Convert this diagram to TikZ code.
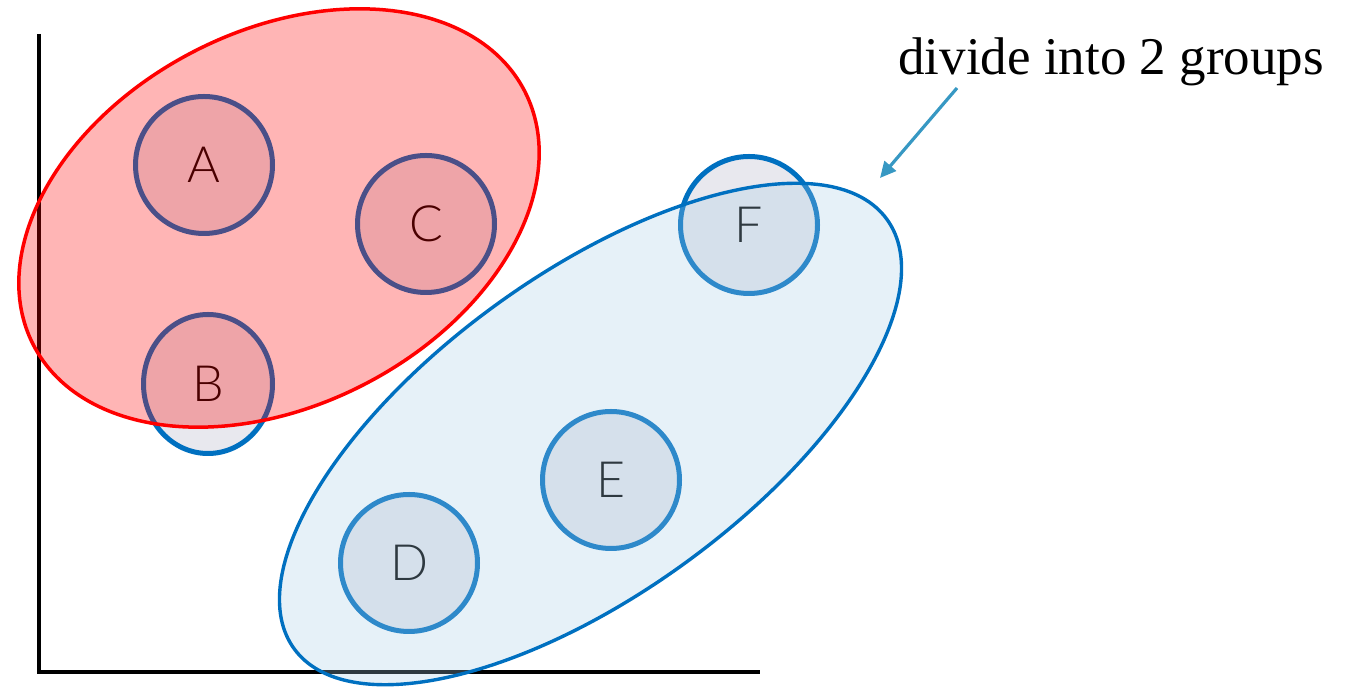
\documentclass[tikz,border=0pt]{standalone}
\usepackage{fontspec}
\setmainfont{Liberation Serif}
\newfontfamily\lettfont{Lato Light}
\usetikzlibrary{shapes.geometric,arrows.meta}
\definecolor{circfill}{RGB}{232,232,238}
\definecolor{circline}{RGB}{0,112,192}
\definecolor{bluegrp}{RGB}{166,205,230}
\definecolor{arrowcol}{RGB}{55,152,195}
\begin{document}
\begin{tikzpicture}[x=0.5pt,y=-0.5pt,
  pointnode/.style={circle,draw=circline,line width=2.5pt,fill=circfill,
    minimum size=68.5pt,inner sep=0pt,text=black,
    font=\lettfont\fontsize{25}{30}\selectfont},
  redgroup/.style={ellipse,draw=red,line width=1.75pt,fill=red,fill opacity=0.29,
    draw opacity=1,inner sep=0pt},
  bluegroup/.style={ellipse,draw=circline,line width=1.7pt,fill=bluegrp,fill opacity=0.28,
    draw opacity=1,inner sep=0pt},
  axisline/.style={line width=2pt,black,line join=miter},
  pointer/.style={-{Triangle[length=8pt,width=7.5pt]},line width=1.6pt,arrowcol}]
\useasboundingbox (0,0) rectangle (1345,688);
% axes
\coordinate (ytop) at (39,34);
\coordinate (origin) at (39,672);
\coordinate (xend) at (760,672);
\draw[axisline] (ytop) -- (origin) -- (xend);
% points
\node[pointnode] (A) at (204,165) {A};
\node[pointnode,ellipse,minimum width=64.5pt,minimum height=69.5pt] (B) at (208,384) {B};
\node[pointnode] (C) at (426,224) {C};
\node[pointnode] (D) at (409,563) {D};
\node[pointnode] (E) at (611,480) {E};
\node[pointnode] (F) at (749,225) {F};
% groups
\node[redgroup,minimum width=276.5pt,minimum height=187pt,rotate=27.4] (g1) at (279,218) {};
\node[bluegroup,minimum width=366pt,minimum height=160pt,rotate=35.9] (g2) at (590.5,434) {};
% label
\node[anchor=base west,inner sep=0pt,font=\fontsize{26.5}{32}\selectfont] (lbl) at (898,75) {divide into 2 groups};
\coordinate (arrowtail) at (957,88);
\coordinate (arrowtip) at (880,178);
\draw[pointer] (arrowtail) -- (arrowtip);
\end{tikzpicture}
\end{document}
